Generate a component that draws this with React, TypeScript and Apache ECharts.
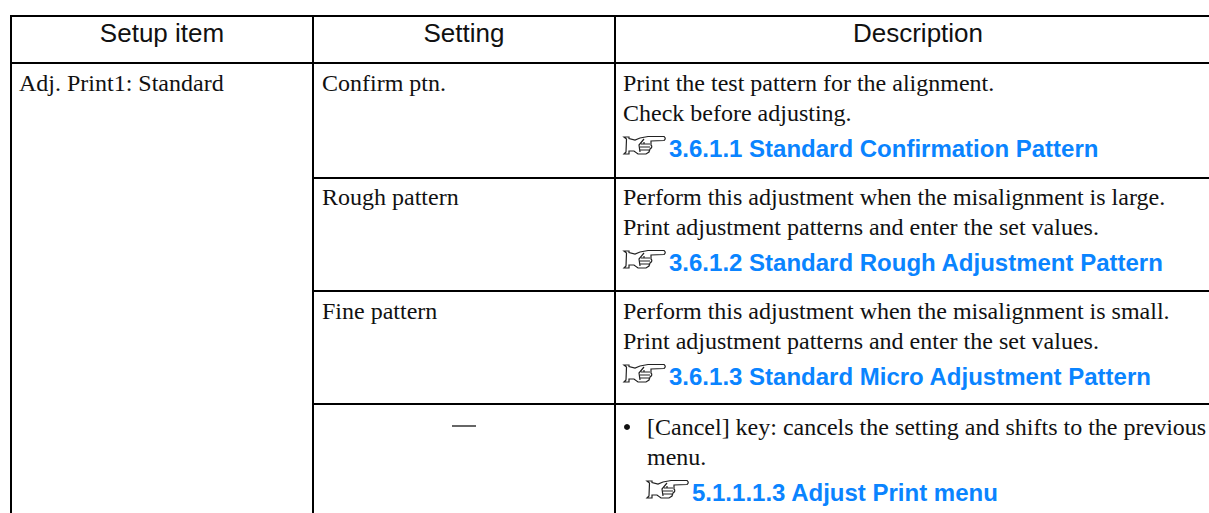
import React, { useEffect, useRef } from "react";
import * as echarts from "echarts";

const headers = ["Setup item", "Setting", "Description"];
const setupItem = "Adj. Print1: Standard";
const settings = ["Confirm ptn.", "Rough pattern", "Fine pattern", "—"];
const descriptions = [
  ["Print the test pattern for the alignment.", "Check before adjusting."],
  ["Perform this adjustment when the misalignment is large.", "Print adjustment patterns and enter the set values."],
  ["Perform this adjustment when the misalignment is small.", "Print adjustment patterns and enter the set values."],
  ["[Cancel] key: cancels the setting and shifts to the previous", "menu."],
];
const links = [
  "3.6.1.1 Standard Confirmation Pattern",
  "3.6.1.2 Standard Rough Adjustment Pattern",
  "3.6.1.3 Standard Micro Adjustment Pattern",
  "5.1.1.1.3 Adjust Print menu",
];

const columnX = [11, 313, 615];
const rowY = [16, 63, 178, 291, 404];
const rowFirstLine = [83, 197, 311, 427];

const handPath =
  "M0 1 L5 1 L5 2.5 L11 4 L16 2 L24 0.5 L40 0.5 Q42.5 2.5 40 4.5 L27 5 L27 9 Q29 11 26 13 L25 16 L22 18 L14 18 L10 15 L5 15 L5 18 L0 18 L2 16 L2.5 3 Z " +
  "M17 8 L26 8 M16 11 L26 11 M16 14 L25 14 M20 3 L15 9 L16 16 M20 6 L20 8";
echarts.graphic.registerShape("hand", echarts.graphic.extendPath(handPath, {}));

const SERIF = "'Liberation Serif', 'Times New Roman', serif";
const SANS = "'Liberation Sans', Arial, sans-serif";

function text(x: number, y: number, t: string, fontFamily: string, fontSize: number, extra: any = {}) {
  return {
    type: "text",
    x,
    y,
    silent: true,
    style: { text: t, fontFamily, fontSize, fill: "#111", textAlign: "left", textVerticalAlign: "middle", ...extra },
  };
}

function line(x1: number, y1: number, x2: number, y2: number) {
  return {
    type: "line",
    silent: true,
    shape: { x1, y1, x2, y2 },
    style: { stroke: "#000", lineWidth: 2 },
  };
}

export default function App() {
  const ref = useRef<HTMLDivElement>(null);
  useEffect(() => {
    const chart = echarts.init(ref.current!, undefined, { renderer: "svg" });
    const els: any[] = [];
    const W = 1209, H = 513;
    els.push(line(columnX[0] - 1, rowY[0], W, rowY[0]));
    els.push(line(columnX[0] - 1, rowY[1], W, rowY[1]));
    for (let i = 2; i < rowY.length; i++) els.push(line(columnX[1], rowY[i], W, rowY[i]));
    columnX.forEach((x) => els.push(line(x, rowY[0], x, H)));

    const headerCx = [162, 464, 918];
    headers.forEach((h, i) => els.push(text(headerCx[i], 33, h, SANS, 26, { textAlign: "center" })));
    els.push(text(19, 83, setupItem, SERIF, 24));
    settings.forEach((s, i) => {
      if (s === "—") els.push({ ...line(452, 426, 476, 426), style: { stroke: "#333", lineWidth: 1.5 } });
      else els.push(text(322, rowFirstLine[i], s, SERIF, 24));
    });
    descriptions.forEach((d, i) => {
      const indent = i === 3 ? 647 : 623;
      d.forEach((t, j) => els.push(text(indent, rowFirstLine[i] + j * 30, t, SERIF, 24)));
      if (i === 3) els.push({ type: "circle", silent: true, shape: { cx: 627, cy: 427, r: 3 }, style: { fill: "#111" } });
      const iy = rowFirstLine[i] + 65;
      const ix = i === 3 ? 647 : 624;
      els.push({ type: "hand", x: ix, y: iy - 12, silent: true, style: { fill: "none", stroke: "#222", lineWidth: 1.2 } });
      els.push(text(ix + 45, iy, links[i], SANS, 24, { fill: "#0a84ff", fontWeight: "bold" }));
    });
    chart.setOption({ animation: false, backgroundColor: "#fff", graphic: { elements: els } });
    return () => chart.dispose();
  }, []);
  return <div ref={ref} style={{ position: "fixed", left: 0, top: 0, width: 1209, height: 513 }} />;
}
